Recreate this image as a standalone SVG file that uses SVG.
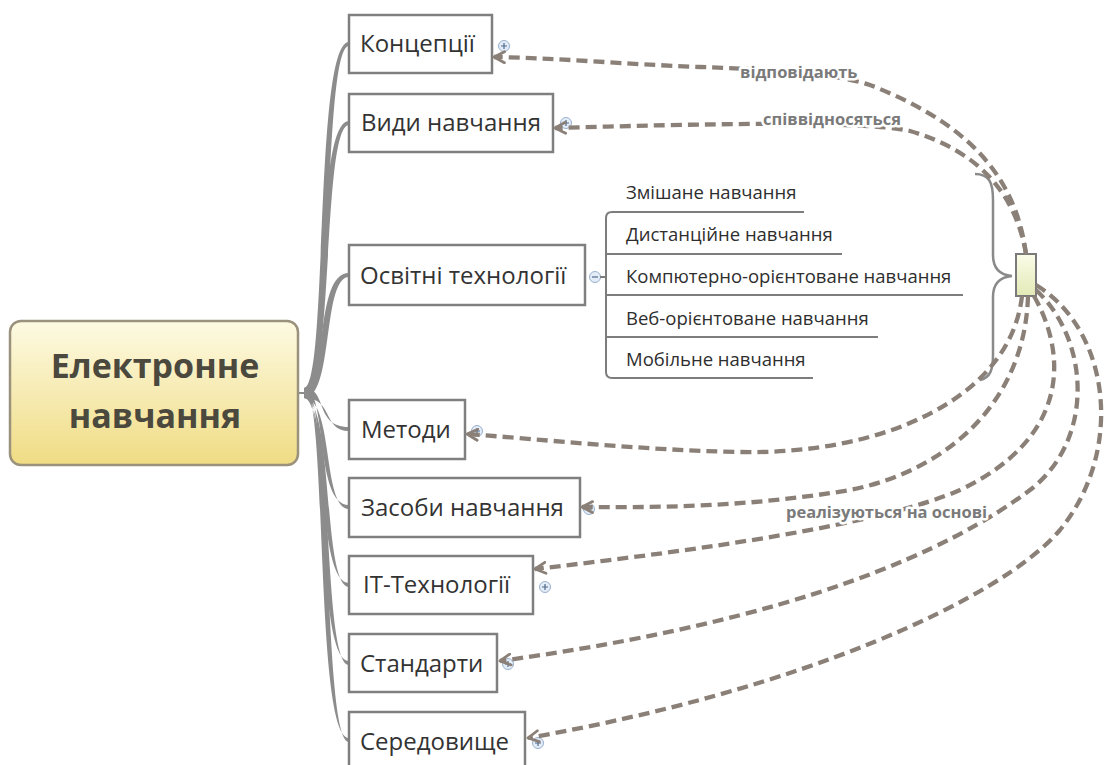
<svg xmlns="http://www.w3.org/2000/svg" width="1110" height="765" viewBox="0 0 1110 765">
  <defs>
    <linearGradient id="rootFill" x1="0" y1="0" x2="0" y2="1">
      <stop offset="0" stop-color="#fdfae2"/>
      <stop offset="1" stop-color="#f0dc84"/>
    </linearGradient>
    <linearGradient id="summaryFill" x1="0" y1="0" x2="0" y2="1">
      <stop offset="0" stop-color="#fbfce8"/>
      <stop offset="1" stop-color="#e4e9b6"/>
    </linearGradient>
    <marker id="arrow" viewBox="0 0 14 14" refX="12" refY="7" markerWidth="14" markerHeight="14" markerUnits="userSpaceOnUse" orient="auto">
      <path d="M1.5,1.5 L12,7 L1.5,12.5" fill="none" stroke="#8b8078" stroke-width="2.8" stroke-linejoin="round" stroke-linecap="round"/>
    </marker>
    <g id="plus">
      <circle r="5.5" fill="#e3ecf7" stroke="#98b0cf" stroke-width="1"/>
      <path d="M-3,0 H3 M0,-3 V3" stroke="#4f6a8c" stroke-width="1.2"/>
    </g>
  </defs>
  <style>
    .topic rect { fill: #ffffff; stroke: #7f7f7f; stroke-width: 2.5; }
    .topic text { font-family: "Open Sans", "Noto Sans", sans-serif; font-size: 24px; fill: #333333; }
    .sub text { font-family: "Open Sans", "Noto Sans", sans-serif; font-size: 18.5px; fill: #2e2e2e; }
    .sub line, .sub path { stroke: #7d7d7d; stroke-width: 2; fill: none; }
    .branch { fill: #8c8c8c; }
    .rel { fill: none; stroke: #8b8078; stroke-width: 4.3; stroke-dasharray: 11 6; marker-end: url(#arrow); }
    .lbl { font-family: "Open Sans", "Noto Sans", sans-serif; font-size: 16.5px; font-weight: bold; fill: #7a7a7a; stroke: #ffffff; stroke-width: 5; paint-order: stroke; stroke-linejoin: round; }
  </style>

  <!-- main branches from the root to each topic -->
  <g id="branches">
    <line x1="297" y1="393" x2="310" y2="393" stroke="#8c8c8c" stroke-width="2"/>
    <path class="branch" d="M304,388 C328,388 314,42 349,42 L349,46 C322,46 334,398 304,398 Z"/>
    <path class="branch" d="M304,388 C328,388 314,121 349,121 L349,125 C322,125 334,398 304,398 Z"/>
    <path class="branch" d="M304,388 C328,388 314,273 349,273 L349,277 C322,277 334,398 304,398 Z"/>
    <path class="branch" d="M304,388 C328,388 314,427 349,427 L349,431 C322,431 334,398 304,398 Z"/>
    <path class="branch" d="M304,388 C328,388 314,505 349,505 L349,509 C322,509 334,398 304,398 Z"/>
    <path class="branch" d="M304,388 C328,388 314,583 349,583 L349,587 C322,587 334,398 304,398 Z"/>
    <path class="branch" d="M304,388 C328,388 314,661 349,661 L349,665 C322,665 334,398 304,398 Z"/>
    <path class="branch" d="M304,388 C328,388 314,738 349,738 L349,742 C322,742 334,398 304,398 Z"/>
  </g>

  <!-- root topic -->
  <g id="root">
    <rect x="10" y="321" width="288" height="144" rx="11" fill="url(#rootFill)" stroke="#9a927c" stroke-width="2.5"/>
    <text x="155" y="378" text-anchor="middle" font-family="'Open Sans', 'Noto Sans', sans-serif" font-size="34" font-weight="bold" fill="#4b483e">Електронне</text>
    <text x="155" y="428" text-anchor="middle" font-family="'Open Sans', 'Noto Sans', sans-serif" font-size="34" font-weight="bold" fill="#4b483e">навчання</text>
  </g>

  <!-- topics -->
  <g id="t-koncepcii" class="topic">
    <rect x="349" y="15" width="143" height="58"/>
    <text x="360" y="52">Концепції</text>
    <use href="#plus" x="504" y="46"/>
  </g>
  <g id="t-vydy" class="topic">
    <rect x="349" y="94" width="204" height="58"/>
    <text x="361" y="131">Види навчання</text>
    <use href="#plus" x="566" y="123"/>
  </g>
  <g id="t-osvitni" class="topic">
    <rect x="349" y="245" width="236" height="60"/>
    <text x="360" y="284">Освітні технології</text>
    <circle cx="595" cy="277" r="5.5" fill="#e3ecf7" stroke="#98b0cf" stroke-width="1"/>
    <path d="M592,277 H598" stroke="#4f6a8c" stroke-width="1.2"/>
  </g>
  <g id="t-metody" class="topic">
    <rect x="349" y="400" width="116" height="59"/>
    <text x="361" y="438">Методи</text>
    <use href="#plus" x="477" y="431"/>
  </g>
  <g id="t-zasoby" class="topic">
    <rect x="349" y="478" width="231" height="59"/>
    <text x="361" y="516">Засоби навчання</text>
    <use href="#plus" x="589" y="509"/>
  </g>
  <g id="t-it" class="topic">
    <rect x="349" y="556" width="184" height="58"/>
    <text x="363" y="593">IT-Технології</text>
    <use href="#plus" x="545" y="587"/>
  </g>
  <g id="t-standarty" class="topic">
    <rect x="349" y="634" width="148" height="58"/>
    <text x="360" y="672">Стандарти</text>
    <use href="#plus" x="508" y="664"/>
  </g>
  <g id="t-seredovyshche" class="topic">
    <rect x="349" y="712" width="176" height="62"/>
    <text x="360" y="750">Середовище</text>
    <use href="#plus" x="538" y="743"/>
  </g>

  <!-- subtopics of "Освітні технології" -->
  <g id="subtopics" class="sub">
    <line x1="600" y1="277" x2="606" y2="277"/>
    <path d="M606,218 Q606,212 612,212 H804"/>
    <path d="M606,372 Q606,378 612,378 H813"/>
    <line x1="606" y1="218" x2="606" y2="372"/>
    <line x1="606" y1="254" x2="842" y2="254"/>
    <line x1="606" y1="295" x2="963" y2="295"/>
    <line x1="606" y1="337" x2="878" y2="337"/>
    <text x="626" y="199">Змішане навчання</text>
    <text x="626" y="241">Дистанційне навчання</text>
    <text x="626" y="283">Компютерно-орієнтоване навчання</text>
    <text x="626" y="325">Веб-орієнтоване навчання</text>
    <text x="626" y="366">Мобільне навчання</text>
  </g>

  <!-- summary brace and summary node -->
  <g id="summary">
    <path d="M975,174 C989,174 993,182 993,200 L993,255 C993,268 1000,275 1012,276 C1000,277 993,284 993,297 L993,355 C993,370 990,378 980,380" fill="none" stroke="#8a8a8a" stroke-width="2.5"/>
    <rect x="1016" y="254" width="20" height="42" fill="url(#summaryFill)" stroke="#7a7a7a" stroke-width="2"/>
  </g>

  <!-- relationship connectors -->
  <g id="connectors">
    <path class="rel" d="M1026,254 C1015,170 960,120 870,85 C830,72 760,69 700,67 C620,64 560,58 494,57"/>
    <path class="rel" d="M1026,254 C1015,190 975,150 910,131 C860,120 700,124 555,128"/>
    <path class="rel" d="M1022,296 C1010,400 880,455 740,452 C640,450 550,440 467,434"/>
    <path class="rel" d="M1028,296 C1025,400 950,470 850,490 C760,505 680,508 582,507"/>
    <path class="rel" d="M1034,296 C1070,360 1065,440 960,490 C880,525 700,550 535,569"/>
    <path class="rel" d="M1036,290 C1090,340 1095,440 1030,490 C950,550 800,620 500,661"/>
    <path class="rel" d="M1036,285 C1110,330 1125,450 1060,530 C1000,600 800,690 528,738"/>
    <text class="lbl" x="740" y="78">відповідають</text>
    <text class="lbl" x="763" y="125">співвідносяться</text>
    <text class="lbl" x="786" y="518" font-size="17">реалізуються на основі</text>
  </g>
</svg>
